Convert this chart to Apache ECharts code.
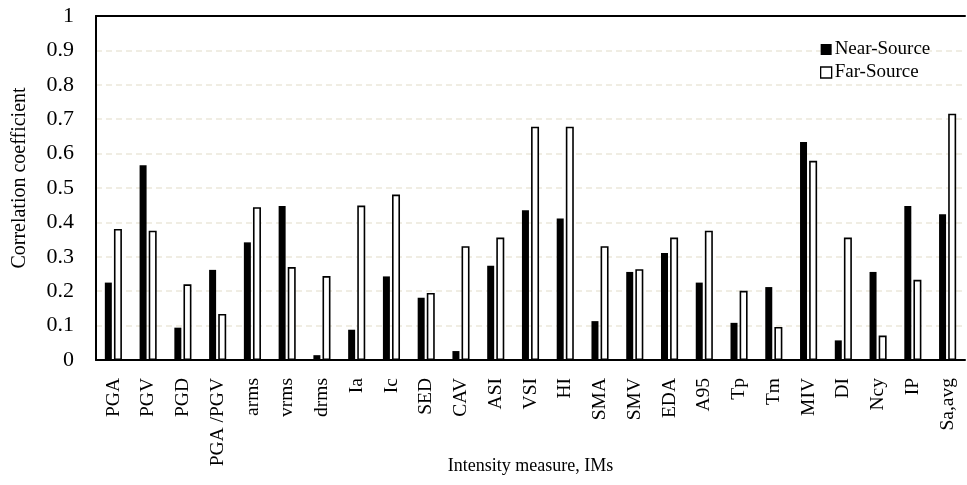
<!DOCTYPE html>
<html><head><meta charset="utf-8">
<script src="https://cdn.jsdelivr.net/npm/echarts@6/dist/echarts.min.js"></script>
<style>html,body{margin:0;padding:0;background:#fff}#c{width:967px;height:485px}</style>
</head><body><div id="c"></div>
<script>
const categories = ['PGA','PGV','PGD','PGA /PGV','arms','vrms','drms','Ia','Ic','SED','CAV','ASI','VSI','HI','SMA','SMV','EDA','A95','Tp','Tm','MIV','DI','Ncy','IP','Sa,avg'];
const nearSource = [0.225,0.566,0.094,0.262,0.342,0.448,0.014,0.088,0.243,0.181,0.026,0.274,0.435,0.411,0.113,0.256,0.311,0.225,0.108,0.212,0.634,0.057,0.256,0.448,0.424];
const farSource  = [0.381,0.376,0.220,0.134,0.444,0.270,0.244,0.449,0.481,0.195,0.331,0.356,0.678,0.678,0.331,0.264,0.356,0.376,0.201,0.096,0.579,0.356,0.071,0.233,0.716];
const yTicks = [0,0.1,0.2,0.3,0.4,0.5,0.6,0.7,0.8,0.9,1];

const F = 'Liberation Serif, Times New Roman, serif';
const chart = echarts.init(document.getElementById('c'), null, {renderer:'canvas'});
chart.setOption({
  animation:false,
  textStyle:{fontFamily:F, color:'#000'},
  grid:{left:96,right:2,top:16,bottom:125,containLabel:false,outerBoundsMode:'none'},
  legend:{
    orient:'vertical', left:815, top:35, itemWidth:11, itemHeight:11, itemGap:4,
    textStyle:{fontFamily:F, fontSize:19, color:'#000', padding:[0,0,0,-2]},
    data:[
      {name:'Near-Source', icon:'rect', itemStyle:{color:'#000',borderWidth:0}},
      {name:'Far-Source', icon:'rect', itemStyle:{color:'#fff',borderColor:'#000',borderWidth:1.3}}
    ]
  },
  xAxis:[{
    type:'category', data:categories,
    axisLine:{lineStyle:{color:'#000',width:2}},
    axisTick:{show:false},
    axisLabel:{rotate:90, fontFamily:F, fontSize:19.5, color:'#000', margin:18, interval:0},
    name:'Intensity measure, IMs', nameLocation:'middle', nameGap:97, nameMoveOverlap:false,
    nameTextStyle:{fontFamily:F, fontSize:18, color:'#000'}
  },{
    type:'category', data:categories, position:'top',
    axisLine:{lineStyle:{color:'#000',width:2}},
    axisTick:{show:false}, axisLabel:{show:false}
  }],
  yAxis:{
    type:'value', min:0, max:1, interval:0.1,
    axisLine:{show:true, lineStyle:{color:'#000',width:2}},
    axisTick:{show:false},
    axisLabel:{fontFamily:F, fontSize:22, color:'#000', margin:22,
      formatter:v=>{const t=yTicks.find(x=>Math.abs(x-v)<1e-9);return t===undefined?'':String(t);}},
    splitLine:{show:true, lineStyle:{color:'#ebe7da', type:[6,4], width:1.5}},
    name:'Correlation coefficient', nameLocation:'middle', nameGap:66, nameMoveOverlap:false,
    nameTextStyle:{fontFamily:F, fontSize:20, color:'#000', padding:[0,0,0,20]}
  },
  series:[
    {name:'Near-Source', type:'bar', data:nearSource, barWidth:7, barGap:'30%',
     itemStyle:{color:'#000'}},
    {name:'Far-Source', type:'bar', data:farSource, barWidth:8,
     itemStyle:{color:'#fff', borderColor:'#000', borderWidth:1.6}}
  ]
});
</script></body></html>
